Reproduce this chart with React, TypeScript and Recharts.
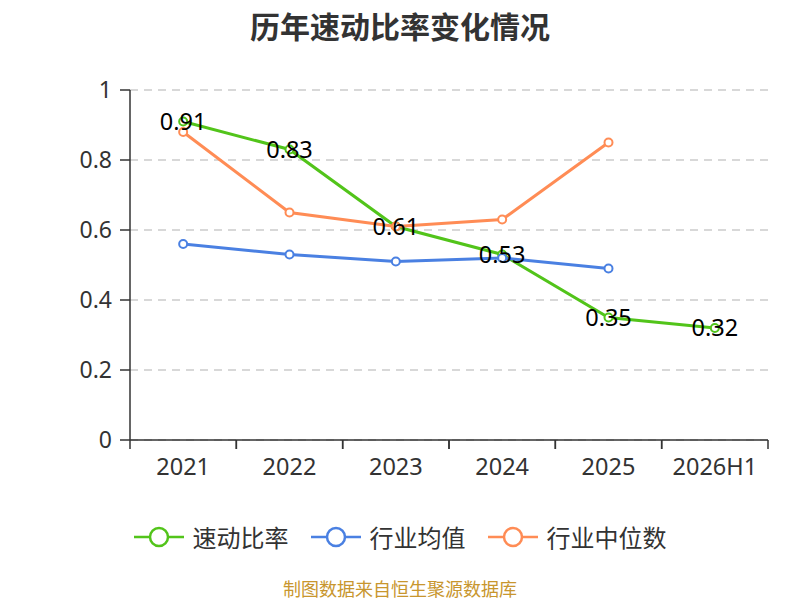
import React from 'react';
import { LineChart, Line, XAxis, YAxis, CartesianGrid, LabelList } from 'recharts';

const categories = ['2021', '2022', '2023', '2024', '2025', '2026H1'];
const quickRatio = [0.91, 0.83, 0.61, 0.53, 0.35, 0.32];
const industryAvg = [0.56, 0.53, 0.51, 0.52, 0.49, null];
const industryMedian = [0.88, 0.65, 0.61, 0.63, 0.85, null];
const yTicks = [0, 0.2, 0.4, 0.6, 0.8, 1];

const seriesNames = ['速动比率', '行业均值', '行业中位数'];
const colors = ['#52c41a', '#4a80e2', '#ff8c55'];

const data = categories.map((c, i) => ({
  name: c,
  quick: quickRatio[i],
  avg: industryAvg[i],
  median: industryMedian[i],
}));

const W = 800;
const H = 600;
const M = { top: 90, right: 32, bottom: 100, left: 0 };
const Y_W = 130;
const X_H = 60;
const BW = (W - M.left - M.right - Y_W) / categories.length;
const FONT = '"Noto Sans", "Noto Sans CJK SC", sans-serif';
const CJK = '"Noto Sans CJK SC", "Noto Sans", sans-serif';

const XTick = (props: any) => {
  const { x, y, payload } = props;
  return (
    <g>
      <line x1={x - BW / 2} x2={x - BW / 2} y1={y} y2={y + 9} stroke="#333" strokeWidth={1.5} />
      <line x1={x + BW / 2} x2={x + BW / 2} y1={y} y2={y + 9} stroke="#333" strokeWidth={1.5} />
      <text x={x} y={y + 26} textAnchor="middle" dominantBaseline="central" fill="#333" fontSize={23.5} fontFamily={FONT}>
        {payload.value}
      </text>
    </g>
  );
};

const ValueLabel = (props: any) => {
  const { x, y, value } = props;
  if (value === null || value === undefined) return null;
  return (
    <text x={x} y={y - 1} textAnchor="middle" dominantBaseline="central" fill="#000" fontSize={23.5} fontFamily={FONT}>
      {value}
    </text>
  );
};

const LegendIcon = ({ color }: { color: string }) => (
  <svg width={50} height={24} style={{ display: 'block' }}>
    <line x1={0} x2={50} y1={12} y2={12} stroke={color} strokeWidth={2.5} />
    <circle cx={25} cy={12} r={9} fill="#fff" stroke={color} strokeWidth={2.5} />
  </svg>
);

export default function App() {
  return (
    <div style={{ position: 'absolute', left: 0, top: 0, width: W, height: H, background: '#fff', fontFamily: CJK }}>
      <div style={{ position: 'absolute', left: 0, top: 5, width: W, textAlign: 'center', fontSize: 30, fontWeight: 'bold', color: '#333', lineHeight: '40px' }}>
        历年速动比率变化情况
      </div>
      <LineChart width={W} height={H} data={data} margin={M}>
        <CartesianGrid vertical={false} stroke="#ccc" strokeDasharray="8 6" strokeWidth={1.5} />
        <XAxis
          dataKey="name"
          height={X_H}
          padding={{ left: BW / 2, right: BW / 2 }}
          axisLine={{ stroke: '#333', strokeWidth: 1.5 }}
          tickLine={false}
          tickSize={0}
          tickMargin={0}
          tick={<XTick />}
          interval={0}
        />
        <YAxis
          width={Y_W}
          domain={[0, 1]}
          ticks={yTicks}
          axisLine={{ stroke: '#333', strokeWidth: 1.5 }}
          tickLine={{ stroke: '#333', strokeWidth: 1.5 }}
          tickSize={10}
          tickMargin={8}
          tick={{ fill: '#333', fontSize: 23, fontFamily: FONT }}
        />
        <Line
          dataKey="quick"
          type="linear"
          stroke={colors[0]}
          strokeWidth={3}
          dot={{ r: 4, fill: '#fff', stroke: colors[0], strokeWidth: 2 }}
          activeDot={false}
          isAnimationActive={false}
        >
          <LabelList dataKey="quick" content={<ValueLabel />} />
        </Line>
        <Line
          dataKey="avg"
          type="linear"
          stroke={colors[1]}
          strokeWidth={3}
          dot={{ r: 4, fill: '#fff', stroke: colors[1], strokeWidth: 2 }}
          activeDot={false}
          isAnimationActive={false}
        />
        <Line
          dataKey="median"
          type="linear"
          stroke={colors[2]}
          strokeWidth={3}
          dot={{ r: 4, fill: '#fff', stroke: colors[2], strokeWidth: 2 }}
          activeDot={false}
          isAnimationActive={false}
        />
      </LineChart>
      <div style={{ position: 'absolute', left: 0, top: 522, width: W, display: 'flex', justifyContent: 'center', alignItems: 'center' }}>
        {seriesNames.map((n, i) => (
          <div key={n} style={{ display: 'flex', alignItems: 'center', marginLeft: i === 0 ? 0 : 22 }}>
            <LegendIcon color={colors[i]} />
            <span style={{ marginLeft: 9, fontSize: 24, color: '#333', lineHeight: '30px' }}>{n}</span>
          </div>
        ))}
      </div>
      <div style={{ position: 'absolute', left: 0, top: 576, width: W, textAlign: 'center', fontSize: 18, color: '#c8962e', lineHeight: '24px' }}>
        制图数据来自恒生聚源数据库
      </div>
    </div>
  );
}
